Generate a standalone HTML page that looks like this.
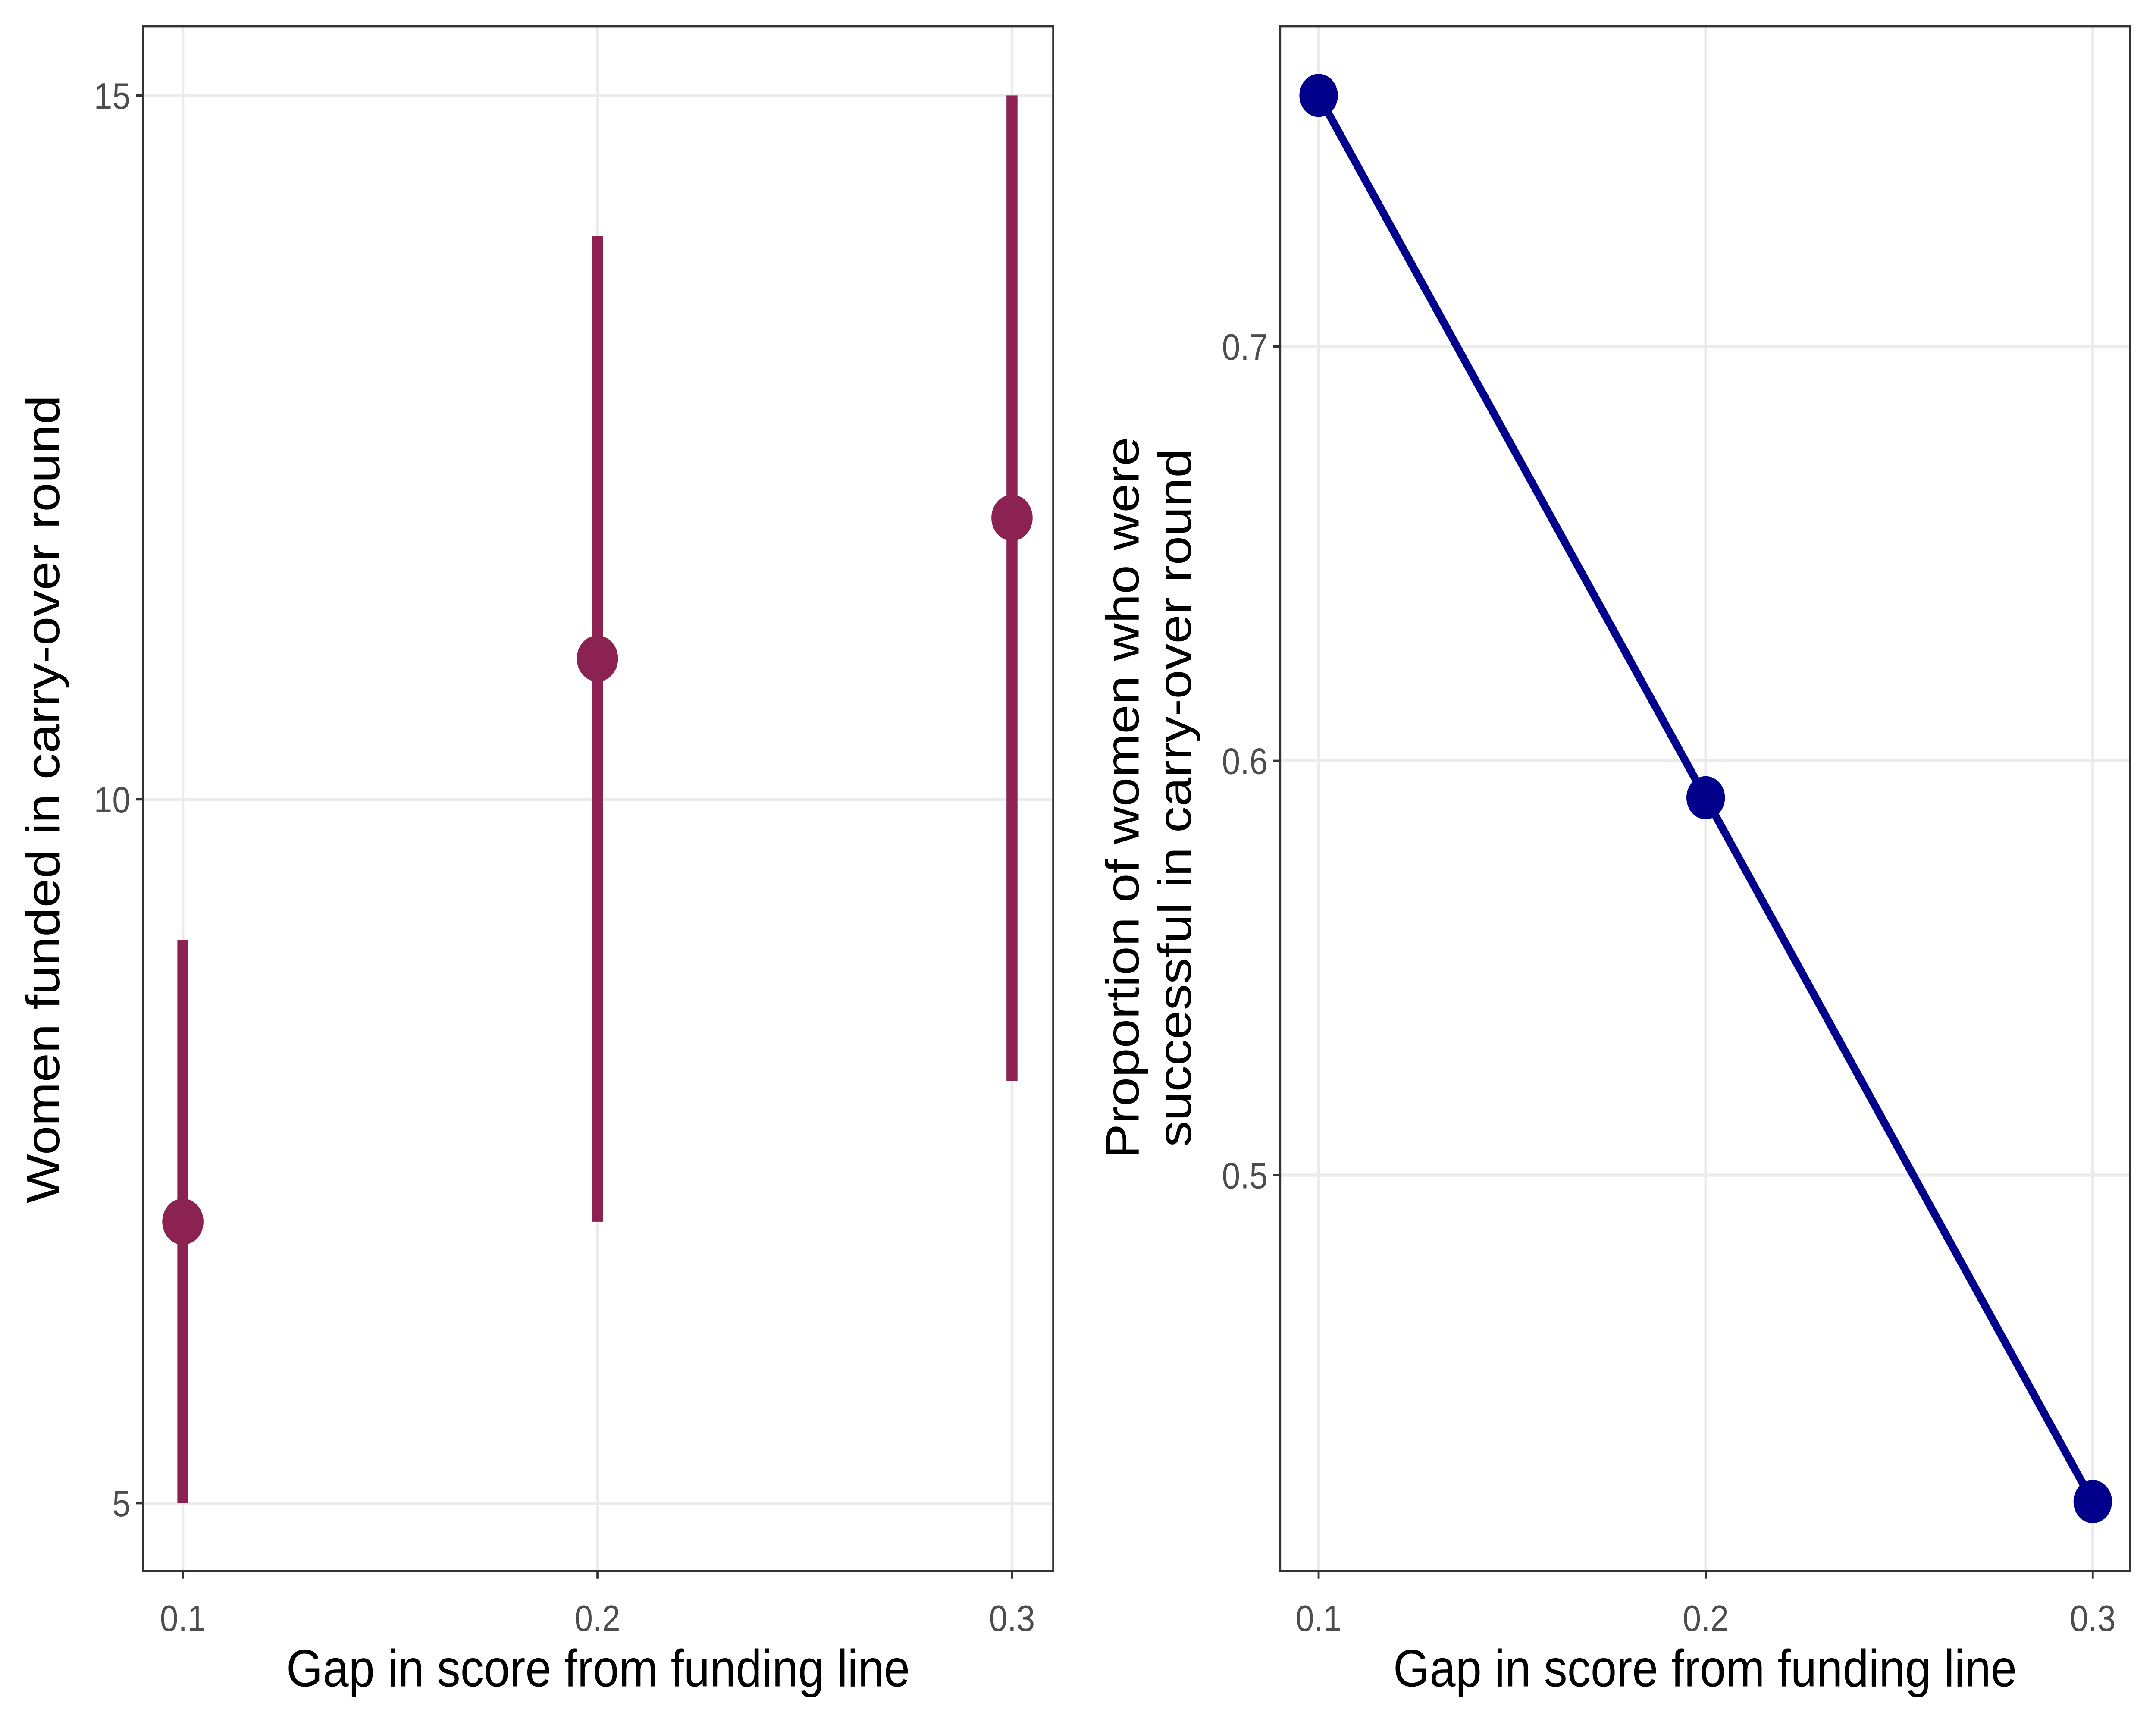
<!DOCTYPE html>
<html><head><meta charset="utf-8"><style>
html,body{margin:0;padding:0;background:#fff;width:100%;height:100%;overflow:hidden}
svg{display:block;position:absolute;left:0;top:0;width:100vw;height:100vh}
text{font-family:"Liberation Sans",Arial,sans-serif}
</style></head><body>
<svg id="chart" viewBox="0 0 1568 1120" preserveAspectRatio="none" xmlns="http://www.w3.org/2000/svg">
<g id="left"></g>
<g id="right"></g>
</svg>
<script>
const NS='http://www.w3.org/2000/svg';
// Left panel data
const leftX=[0.1,0.2,0.3];
const leftY=[7,11,12];
const leftLo=[5,7,8];
const leftHi=[9,14,15];
const leftYTicks=[5,10,15];
const xTicks=[0.1,0.2,0.3];
// Right panel data
const rightX=[0.1,0.2,0.3];
const rightY=[0.7606,0.5911,0.4212];
const rightYTicks=[0.5,0.6,0.7];

function el(tag,attrs,parent){const e=document.createElementNS(NS,tag);for(const k in attrs)e.setAttribute(k,attrs[k]);parent.appendChild(e);return e;}
function lin(d0,d1,r0,r1){return v=>r0+(v-d0)*(r1-r0)/(d1-d0);}

function frame(g,px0,px1,py0,py1,sx,sy,yt,xt){
  el('rect',{x:px0,y:py0,width:px1-px0,height:py1-py0,fill:'#fff'},g);
  yt.forEach(t=>{const l=el('line',{x1:px0,x2:px1,y1:sy(t),y2:sy(t),stroke:'#ebebeb','stroke-width':2},g);
    
    });
  xt.forEach(t=>{const l=el('line',{y1:py0,y2:py1,x1:sx(t),x2:sx(t),stroke:'#ebebeb','stroke-width':2},g);
    
    });
  yt.forEach(t=>{el('line',{x1:px0-5,x2:px0,y1:sy(t),y2:sy(t),stroke:'#333','stroke-width':1.5},g);
    const tx=el('text',{x:px0-9,y:sy(t)+8.5,'text-anchor':'end','font-size':24,fill:'#4d4d4d'},g);tx.textContent=String(t);
    
    });
  xt.forEach(t=>{el('line',{y1:py1,y2:py1+5,x1:sx(t),x2:sx(t),stroke:'#333','stroke-width':1.5},g);
    const tx=el('text',{x:sx(t),y:py1+39,'text-anchor':'middle','font-size':24,fill:'#4d4d4d'},g);tx.textContent=String(t);
    
    });
  const xl=el('text',{x:(px0+px1)/2,y:1095,'text-anchor':'middle','font-size':34,fill:'#000'},g);xl.textContent='Gap in score from funding line';
  
  
}
// Left
(function(){
  const g=document.getElementById('left');
  const px0=104,px1=766,py0=17,py1=1020;
  const sx=lin(0.1,0.3,133,736), sy=lin(5,15,976,62);
  frame(g,px0,px1,py0,py1,sx,sy,leftYTicks,xTicks);
  leftX.forEach((x,i)=>{
    const b=el('line',{x1:sx(x),x2:sx(x),y1:sy(leftLo[i]),y2:sy(leftHi[i]),stroke:'#8B2252','stroke-width':8},g);
    
    
    const c=el('circle',{cx:sx(x),cy:sy(leftY[i]),r:15,fill:'#8B2252'},g);
    
    
  });
  el('rect',{x:px0,y:py0,width:px1-px0,height:py1-py0,fill:'none',stroke:'#333','stroke-width':1.5},g);
  const yl=el('text',{transform:'translate(43,519) rotate(-90)','text-anchor':'middle','font-size':34,fill:'#000'},g);
  yl.textContent='Women funded in carry-over round';
  
  
})();
// Right
(function(){
  const g=document.getElementById('right');
  const px0=931,px1=1549,py0=17,py1=1020;
  const sx=lin(0.1,0.3,959,1522), sy=lin(0.5,0.7,763,225);
  frame(g,px0,px1,py0,py1,sx,sy,rightYTicks,xTicks);
  const pts=rightX.map((x,i)=>sx(x)+','+sy(rightY[i])).join(' ');
  const pl=el('polyline',{points:pts,fill:'none',stroke:'#00008B','stroke-width':5.5},g);
  
  
  rightX.forEach((x,i)=>{
    const c=el('circle',{cx:sx(x),cy:sy(rightY[i]),r:14,fill:'#00008B'},g);
    
    
  });
  el('rect',{x:px0,y:py0,width:px1-px0,height:py1-py0,fill:'none',stroke:'#333','stroke-width':1.5},g);
  const yl=el('text',{transform:'translate(828,518) rotate(-90)','text-anchor':'middle','font-size':34,fill:'#000'},g);
  yl.textContent='Proportion of women who were';
  
  
  const yl2=el('text',{transform:'translate(866,518) rotate(-90)','text-anchor':'middle','font-size':34,fill:'#000'},g);
  yl2.textContent='successful in carry-over round';
  
  
})();
</script>
</body></html>
